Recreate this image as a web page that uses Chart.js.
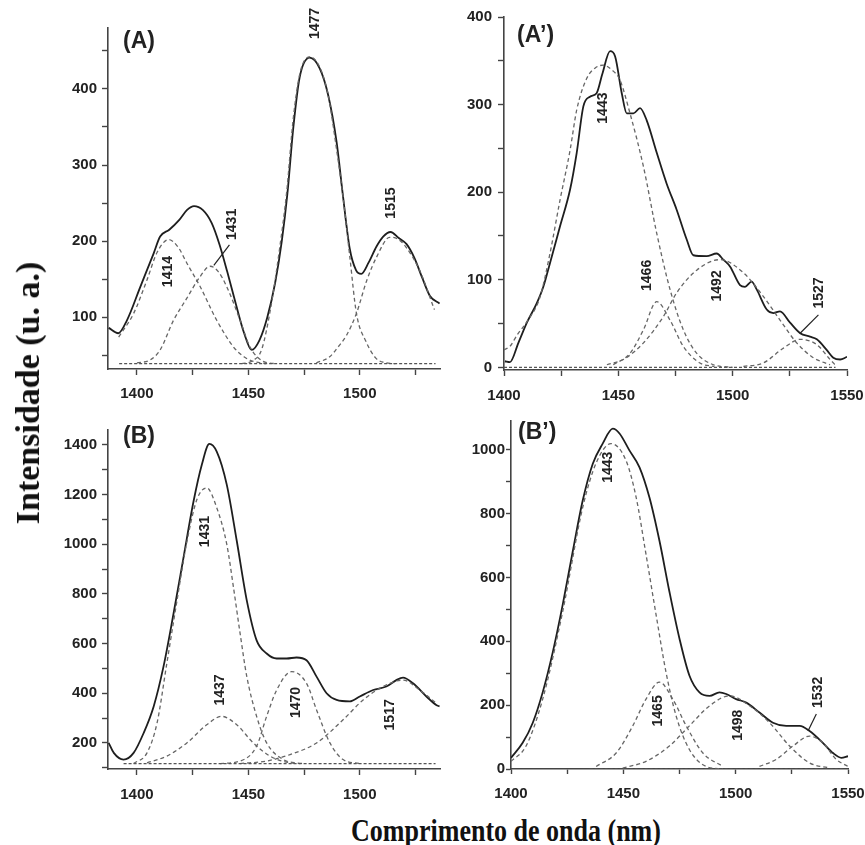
<!DOCTYPE html>
<html><head><meta charset="utf-8">
<script src="https://cdn.jsdelivr.net/npm/chart.js@4.4.1/dist/chart.umd.min.js"></script>
<style>
html,body{margin:0;padding:0;background:#fff;}
#wrap{position:relative;width:865px;height:845px;overflow:hidden;background:#fff;}
canvas{position:absolute;}
.title{position:absolute;font-family:'Liberation Serif','Times New Roman',serif;font-weight:bold;color:#111;white-space:nowrap;}
#xt{left:506px;top:831px;font-size:26px;transform:translate(-50%,-50%) scaleY(1.2);}
#yt{left:28px;top:393px;font-size:34px;transform:translate(-50%,-50%) rotate(-90deg);}
</style></head><body>
<div id="wrap">
<canvas id="cA" width="420" height="409" style="left:30px;top:0px"></canvas>
<canvas id="cA2" width="405" height="410" style="left:460px;top:0px"></canvas>
<canvas id="cB" width="420" height="399" style="left:30px;top:410px"></canvas>
<canvas id="cB2" width="405" height="404" style="left:460px;top:405px"></canvas>
<div class="title" id="xt">Comprimento de onda (nm)</div>
<div class="title" id="yt">Intensidade (u. a.)</div>
</div>
<script>
// ---------------- DATA (wavelength nm, intensity u.a.) ----------------
// Panel (A)
const A_total = [[1387.3,86],[1391.6,79],[1395.5,96],[1401.5,140],[1407.5,184],[1410.4,206],[1414.5,215],[1419,228],[1422.5,241],[1425.6,246],[1429.5,241],[1433.5,224],[1437,196],[1440.5,160],[1444.5,116],[1448,80],[1451.5,57],[1455,70],[1458.5,100],[1462,145],[1465,200],[1467.5,262],[1470.2,350],[1473,415],[1477.5,441],[1482,427],[1485.8,392],[1489.6,330],[1492.5,258],[1495.5,190],[1498.3,162],[1500.7,157],[1504,172],[1507.5,193],[1510.5,206],[1513.8,212],[1517.5,204],[1521,196],[1524.5,178],[1528,152],[1531.5,128],[1535.8,118]];
const A_base = [[1392,39],[1534,39]];
const A_g1414 = [[1391.8,74],[1398.5,105],[1404.5,149],[1409,185],[1414.2,202],[1418.5,192],[1422.4,171],[1428.4,140],[1435.8,96],[1443.3,61],[1448,48],[1452.2,42],[1458,39]];
const A_g1431 = [[1400,40],[1406,44],[1410.4,57],[1416.4,96],[1422.4,125],[1428,152],[1432.8,167],[1436.5,160],[1440.3,140],[1446.3,96],[1450.7,61],[1456.7,42],[1462,39]];
const A_g1477 = [[1447,39],[1452,43],[1456,58],[1460,112],[1464,190],[1467.2,265],[1470.1,360],[1473.1,420],[1477.6,442],[1482.1,428],[1485.8,392],[1489.6,320],[1492.5,258],[1495.5,180],[1498.5,105],[1502.8,68],[1507.3,46],[1512,40],[1516,39]];
const A_g1515 = [[1480.5,40],[1486.5,48],[1490,60],[1494,76],[1498.5,105],[1503.2,149],[1507.7,180],[1513.4,205],[1517,203],[1520.5,193],[1526.8,162],[1533.5,110]];
const A_peaks = ['1414','1431','1477','1515'];

// Panel (A')
const A2_total = [[1400.4,7],[1402.6,6],[1406.3,28],[1410,51],[1414.3,73],[1417.2,92],[1420.1,119],[1424.5,161],[1428.9,203],[1431.8,245],[1434.7,298],[1437.6,309],[1440.5,313],[1443,335],[1446.4,361],[1448.6,355],[1451.5,313],[1453.7,290],[1456.6,290],[1459.5,296],[1462.4,282],[1466.8,245],[1471.1,210],[1475.5,180],[1479.9,146],[1482.8,128],[1488.6,127],[1493,130],[1495.9,123],[1498.9,115],[1503.2,94],[1505.4,92],[1508.3,98],[1510.5,89],[1514.9,66],[1517.8,62],[1520.7,64],[1525.1,51],[1529.5,39],[1533.8,35],[1536.8,32],[1541.1,20],[1544,11],[1547,9],[1550,12]];
const A2_base = [[1400,0],[1545,0]];
const A2_g1443 = [[1400,20],[1402.6,24],[1406,38],[1410,52],[1415.7,80],[1420.1,130],[1424.5,191],[1428.9,248],[1431.8,294],[1436.2,330],[1440,342],[1443.4,345],[1447,340],[1450.7,328],[1455.1,290],[1461,229],[1466.8,153],[1472.6,89],[1478.4,43],[1484.3,16],[1491.6,3],[1500,0]];
const A2_g1466 = [[1447.8,3],[1455.1,16],[1461,43],[1466.8,75],[1472.6,54],[1478.4,24],[1485.7,5],[1492,1]];
const A2_g1492 = [[1445,3],[1452.2,9],[1461,28],[1469.7,58],[1475.5,85],[1484.3,111],[1494.5,123],[1504.7,108],[1513.4,81],[1520.7,54],[1528,28],[1535.3,11],[1542.6,3]];
const A2_g1527 = [[1504.7,1],[1513.4,5],[1522.2,22],[1529.5,32],[1536.8,26],[1542.6,9],[1545.5,1]];
const A2_peaks = ['1443','1466','1492','1527'];

// Panel (B)
const B_total = [[1387.3,200],[1389.6,160],[1394,133],[1398.5,160],[1403,240],[1407.5,347],[1411.9,507],[1416.4,720],[1420.9,947],[1425.4,1173],[1429.1,1320],[1432.5,1404],[1435.8,1373],[1440.3,1240],[1444.8,1013],[1449.3,773],[1453.7,613],[1458.2,560],[1462.7,540],[1467.2,540],[1471.6,544],[1476.1,533],[1480.6,467],[1485.1,400],[1489.6,373],[1495.5,367],[1500,387],[1506,413],[1511.9,427],[1516.4,453],[1519.4,463],[1523.9,440],[1529.9,387],[1534.3,353],[1535.8,347]];
const B_base = [[1394,117],[1534,117]];
const B_g1431 = [[1398.5,117],[1404.5,160],[1409,280],[1413.4,520],[1417.9,770],[1422.4,1010],[1426.9,1180],[1431.3,1227],[1435.8,1147],[1440.3,1000],[1443.3,827],[1446.3,640],[1449.3,467],[1453.7,307],[1458.2,200],[1465.7,133],[1473,117]];
const B_g1437 = [[1404.5,120],[1413.4,147],[1422.4,200],[1431.3,273],[1438,307],[1444.8,273],[1452.2,200],[1459.7,147],[1468.7,120],[1475,117]];
const B_g1470 = [[1437.3,117],[1446.3,127],[1453.7,187],[1458.2,307],[1462.7,413],[1469.4,487],[1476.1,440],[1480.6,333],[1486.6,200],[1492.5,133],[1500,117]];
const B_g1517 = [[1446.3,117],[1458.2,127],[1468.7,153],[1480.6,200],[1492.5,293],[1501.5,373],[1510.4,427],[1519.4,453],[1526.9,413],[1534.3,360]];
const B_peaks = ['1431','1437','1470','1517'];

// Panel (B')
const B2_total = [[1400,35],[1405.2,82],[1409.7,145],[1414.1,240],[1418.6,366],[1423,514],[1427.5,682],[1431.9,840],[1436.4,956],[1440.8,1019],[1445.3,1066],[1448.3,1051],[1452.7,998],[1457.2,945],[1461.6,851],[1466.1,714],[1470.5,556],[1475,408],[1479.4,293],[1483.9,240],[1488.4,229],[1492.8,240],[1495.8,235],[1500.2,219],[1504.7,208],[1510.6,177],[1516.6,145],[1522.5,135],[1528.5,135],[1532.9,119],[1538.8,82],[1543.3,50],[1547,35],[1550,40]];
const B2_base = [[1435,0],[1548,0]];
const B2_g1443 = [[1400,24],[1406.7,72],[1414.1,219],[1423,493],[1431.9,819],[1438,960],[1444.5,1019],[1451.2,966],[1455.7,851],[1460.1,672],[1464.6,482],[1469,303],[1473.5,166],[1479.4,61],[1486.9,8],[1494.3,0]];
const B2_g1465 = [[1437.9,8],[1446.8,50],[1454.2,135],[1460.1,219],[1466.1,272],[1472,219],[1478,135],[1485.4,50],[1494.3,8]];
const B2_g1498 = [[1449.7,3],[1460.1,24],[1470.5,72],[1479.4,135],[1488.4,198],[1497.3,229],[1506.2,198],[1515.1,145],[1524,72],[1532.9,19],[1541.8,3]];
const B2_g1532 = [[1510.6,8],[1518,30],[1525.5,72],[1532.9,103],[1538.8,82],[1544.8,30],[1550,8]];
const B2_peaks = ['1443','1465','1498','1532'];

// ---------------- STYLE / LAYOUT ----------------
const SANS = "'Liberation Sans',Arial,sans-serif";
const TICK_FONT = {family: SANS, size: 15, weight: 'bold'};
const INK = '#222';
const isMult = (v, m) => Math.abs(v / m - Math.round(v / m)) < 1e-6;
function stepTicks(s, step) {
  const out = [];
  for (let k = Math.ceil(s.min / step - 1e-9); k * step <= s.max + 1e-9; k++) out.push({value: k * step});
  s.ticks = out;
}
function noEdgePad(s) { s.paddingLeft = 0; s.paddingRight = 0; s.paddingTop = 0; s.paddingBottom = 0; }

const notesPlugin = {
  id: 'peakNotes',
  afterDatasetsDraw(chart, args, o) {
    const ctx = chart.ctx, xs = chart.scales.x, ys = chart.scales.y, ca = chart.chartArea;
    ctx.save();
    ctx.strokeStyle = INK; ctx.lineWidth = 1.2;
    (o.leaders || []).forEach(l => {
      ctx.beginPath();
      ctx.moveTo(xs.getPixelForValue(l[0][0]), ys.getPixelForValue(l[0][1]));
      ctx.lineTo(xs.getPixelForValue(l[1][0]), ys.getPixelForValue(l[1][1]));
      ctx.stroke();
    });
    ctx.fillStyle = INK;
    ctx.font = "bold 14px " + SANS;
    ctx.textAlign = 'center'; ctx.textBaseline = 'middle';
    (o.labels || []).forEach((t, i) => {
      const p = o.at[i];
      ctx.save();
      ctx.translate(xs.getPixelForValue(p[0]), ys.getPixelForValue(p[1]));
      ctx.rotate(-Math.PI / 2);
      ctx.fillText(t, 0, 0);
      ctx.restore();
    });
    ctx.font = "bold 23px " + SANS;
    ctx.textAlign = 'left'; ctx.textBaseline = 'middle';
    ctx.fillText(o.tag, ca.left + o.tagDx, ca.top + o.tagDy);
    ctx.restore();
  }
};

function lineDs(data, kind) {
  const base = {data, pointRadius: 0, fill: false, cubicInterpolationMode: 'monotone'};
  if (kind === 'solid') return Object.assign(base, {borderColor: '#1e1e1e', borderWidth: 1.8});
  if (kind === 'base') return Object.assign(base, {borderColor: '#555', borderWidth: 1.2, borderDash: [3, 2]});
  return Object.assign(base, {borderColor: '#666', borderWidth: 1.3, borderDash: [4, 3]});
}

function makePanel(id, p) {
  const datasets = [lineDs(p.base, 'base')].concat(p.comps.map(c => lineDs(c, 'dash'))).concat([lineDs(p.total, 'solid')]);
  const grid = {display: true, drawOnChartArea: false, drawTicks: true, tickLength: p.tickLen || 6, tickColor: '#444', tickWidth: 1.4};
  const border = {display: true, color: '#444', width: 1.6};
  return new Chart(document.getElementById(id), {
    type: 'line',
    data: {datasets},
    options: {
      responsive: false, animation: false, events: [],
      layout: {padding: {top: p.padTop, right: p.padRight, left: 0, bottom: 0}},
      plugins: {legend: {display: false}, tooltip: {enabled: false}, title: {display: false},
        peakNotes: {labels: p.peaks, at: p.peakAt, leaders: p.leaders, tag: p.tag, tagDx: p.tagDx, tagDy: p.tagDy}},
      scales: {
        x: {type: 'linear', min: p.xmin, max: p.xmax,
          afterBuildTicks: s => stepTicks(s, 25),
          afterFit: s => { s.height = 40; noEdgePad(s); },
          ticks: {autoSkip: false, maxRotation: 0, color: INK, font: TICK_FONT, padding: p.xPad,
            callback: v => (isMult(v, 50) ? String(Math.round(v)) : '')},
          grid, border},
        y: {type: 'linear', min: p.ymin, max: p.ymax,
          afterBuildTicks: s => stepTicks(s, p.ystep),
          afterFit: s => { s.width = p.yW; noEdgePad(s); },
          ticks: {autoSkip: false, color: INK, font: TICK_FONT, padding: p.yPad,
            callback: v => (isMult(v, p.ylab) ? String(Math.round(v)) : '')},
          grid, border}
      }
    },
    plugins: [notesPlugin]
  });
}

makePanel('cA', {total: A_total, base: A_base, comps: [A_g1414, A_g1431, A_g1477, A_g1515],
  xmin: 1387, xmax: 1536, ymin: 32, ymax: 480, ystep: 50, ylab: 100, yW: 78, padTop: 28, padRight: 10, xPad: 10, yPad: 5,
  peaks: A_peaks, peakAt: [[1414.2,160],[1442.5,222],[1479.9,486],[1514.2,250]],
  leaders: [[[1441.5,195],[1434.5,168]]], tag: '(A)', tagDx: 15, tagDy: 14});

makePanel('cA2', {total: A2_total, base: A2_base, comps: [A2_g1443, A2_g1466, A2_g1492, A2_g1527],
  xmin: 1400, xmax: 1550, ymin: -3, ymax: 400, ystep: 50, ylab: 100, yW: 44, padTop: 17, padRight: 18, xPad: 11, yPad: 6,
  peaks: A2_peaks, peakAt: [[1443.4,296],[1462.4,105],[1493.3,93],[1537.9,85]],
  leaders: [[[1537.5,60],[1529.5,39]]], tag: '(A\u2019)', tagDx: 13, tagDy: 19});

makePanel('cB', {total: B_total, base: B_base, comps: [B_g1431, B_g1437, B_g1470, B_g1517],
  xmin: 1387, xmax: 1536, ymin: 95, ymax: 1460, ystep: 100, ylab: 200, yW: 78, padTop: 20, padRight: 10, xPad: 11, yPad: 5,
  peaks: B_peaks, peakAt: [[1430.6,1051],[1437.3,413],[1471.6,363],[1513.4,313]],
  leaders: [], tag: '(B)', tagDx: 15, tagDy: 7});

makePanel('cB2', {total: B2_total, base: B2_base, comps: [B2_g1443, B2_g1465, B2_g1498, B2_g1532],
  xmin: 1400, xmax: 1550, ymin: 0, ymax: 1090, ystep: 100, ylab: 200, yW: 51, padTop: 16, padRight: 17, xPad: 11, yPad: 1, tickLen: 5,
  peaks: B2_peaks, peakAt: [[1443.1,945],[1465.3,182],[1501,137],[1536.6,240]],
  leaders: [[[1535.9,172],[1532.2,119]]], tag: '(B\u2019)', tagDx: 7, tagDy: 12});
</script>
</body></html>
